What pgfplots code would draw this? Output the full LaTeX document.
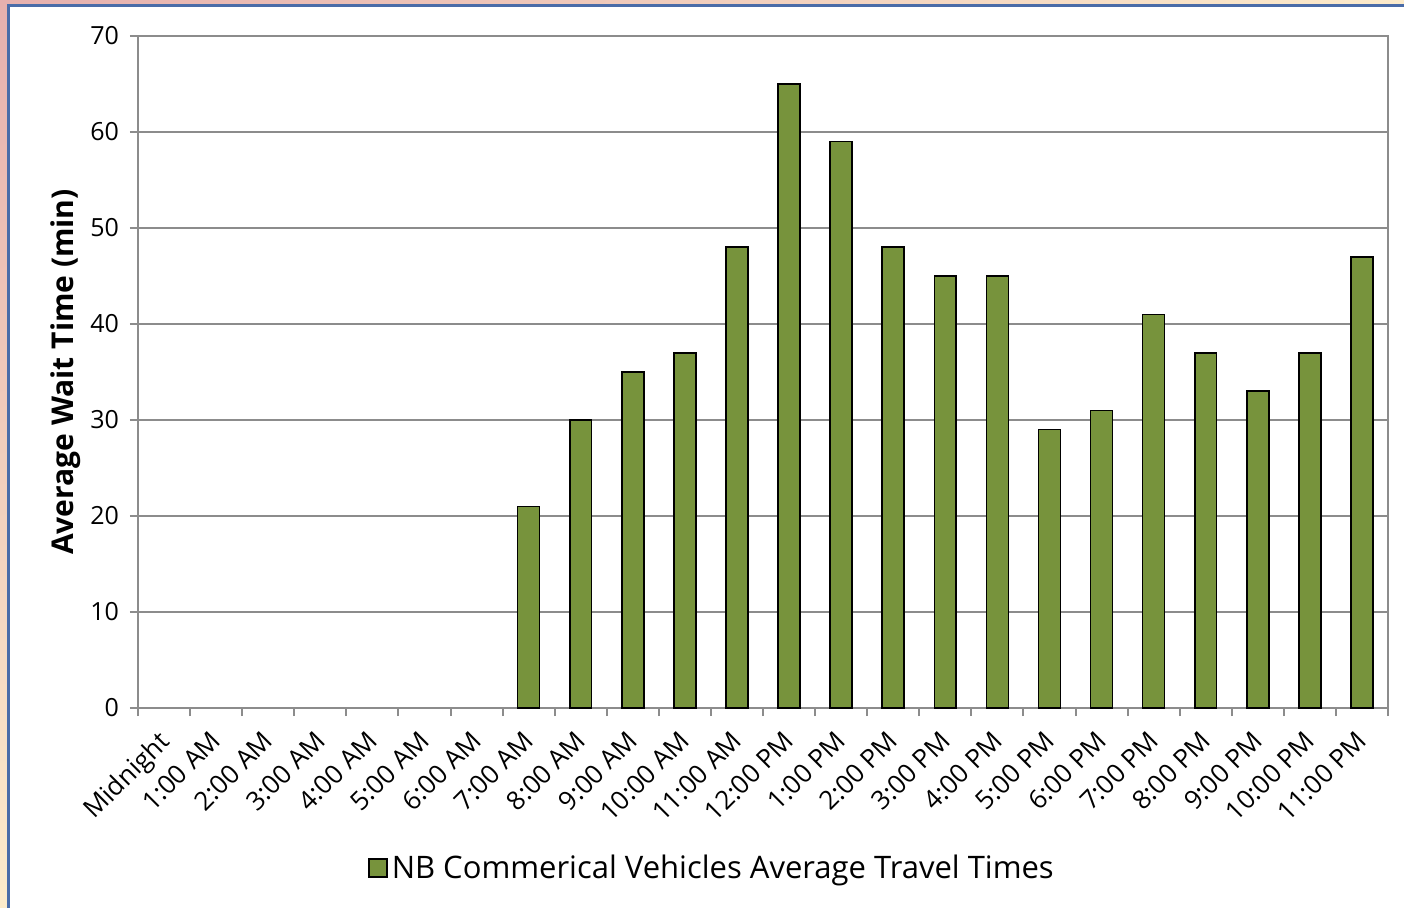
\documentclass[border=0pt]{standalone}
\usepackage{fontspec}
\setmainfont{Open Sans}
\usepackage{pgfplots}
\pgfplotsset{compat=1.18}
\usetikzlibrary{shadings}
\definecolor{bargreen}{HTML}{77933C}
\definecolor{gridgray}{HTML}{8C8C8C}
\definecolor{frameblue}{HTML}{4A6CA8}
\definecolor{pinkbg}{HTML}{E6B0AE}
\definecolor{creambg}{HTML}{FCEBCB}
\begin{document}
\begin{tikzpicture}[x=0.5pt,y=0.5pt]
\clip (0,0) rectangle (1404,907);
\shade[upper left=pinkbg, upper right=creambg, lower left=creambg, lower right=creambg] (0,0) rectangle (1404,907);
\filldraw[fill=white, draw=frameblue, line width=1.2pt] (8.5,-20) rectangle (1430,901.5);
\begin{axis}[
  at={(69pt,99.5pt)}, anchor=south west,
  scale only axis, width=625pt, height=336pt,
  xmin=-0.5, xmax=23.5, ymin=0, ymax=70,
  ytick={0,10,...,70},
  xtick={0,...,23},
  xticklabels={Midnight,1:00 AM,2:00 AM,3:00 AM,4:00 AM,5:00 AM,6:00 AM,7:00 AM,8:00 AM,9:00 AM,10:00 AM,11:00 AM,12:00 PM,1:00 PM,2:00 PM,3:00 PM,4:00 PM,5:00 PM,6:00 PM,7:00 PM,8:00 PM,9:00 PM,10:00 PM,11:00 PM},
  minor xtick={-0.5,0.5,...,23.5},
  major x tick style={draw=none},
  minor tick length=4pt, major tick length=4pt,
  tick align=outside,
  xtick pos=bottom, ytick pos=left,
  ymajorgrids, grid style={gridgray, line width=1pt},
  axis line style={gridgray, line width=1pt},
  tick style={gridgray, line width=1pt},
  /pgf/number format/assume math mode=true,
  yticklabel style={font=\fontsize{12.5}{15}\selectfont, xshift=-2pt},
  xticklabel style={font=\fontsize{13}{15}\selectfont, xshift=-3.5pt, yshift=-5pt, rotate=45, anchor=north east, inner sep=1pt},
  ylabel={\bfseries Average Wait Time (min)},
  ylabel style={font=\fontsize{15}{17}\selectfont, yshift=-2pt},
  legend style={at={(0.46,-0.238)}, anchor=center, draw=none, font=\fontsize{15.5}{18}\selectfont, fill=none},
  legend image code/.code={\draw[fill=bargreen, draw=black, line width=0.8pt] (0pt,-4.5pt) rectangle (9pt,4.5pt);},
]
\addplot[ybar, bar width=0.42, fill=bargreen, draw=black, line width=0.8pt] coordinates {
(7,21) (8,30) (9,35) (10,37) (11,48)
(12,65) (13,59) (14,48) (15,45) (16,45) (17,29) (18,31) (19,41) (20,37) (21,33) (22,37) (23,47)};
\addlegendentry{NB Commerical Vehicles Average Travel Times}
\end{axis}
\end{tikzpicture}
\end{document}
